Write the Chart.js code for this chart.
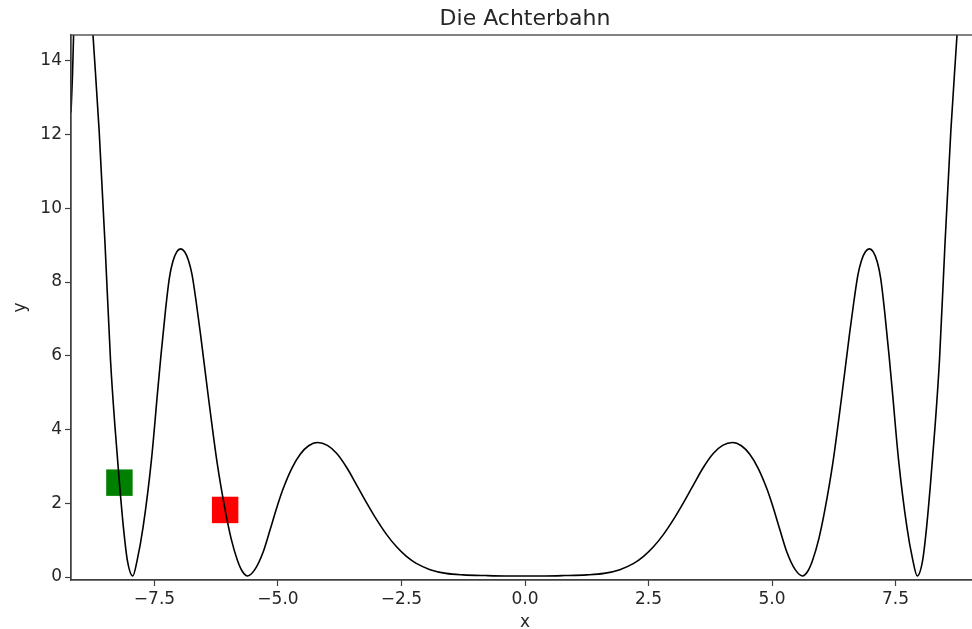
<!DOCTYPE html>
<html>
<head>
<meta charset="utf-8">
<title>Die Achterbahn</title>
<script src="https://cdn.jsdelivr.net/npm/chart.js@4/dist/chart.umd.min.js"></script>
<style>
  html, body { margin: 0; padding: 0; background: #fff; overflow: hidden; }
  #wrap { width: 972px; height: 629px; overflow: hidden; position: relative; }
  canvas { display: block; }
</style>
</head>
<body>
<div id="wrap"><canvas id="coaster" width="985" height="629"></canvas></div>
<script>
/* ── Data ── */

const chartTitle = 'Die Achterbahn';

// track profile, x positions and heights
const trackX = [
  -9.19, -9.16, -9.10, -9.02, -8.95, -8.85, -8.745, -8.62, -8.50, -8.39, -8.30,
  -8.21, -8.13, -8.05, -7.94, -7.85, -7.73, -7.56, -7.44, -7.37, -7.28, -7.20,
  -7.13, -7.05, -6.97, -6.89, -6.81, -6.74, -6.66, -6.57, -6.41, -6.23, -6.07,
  -5.95, -5.82, -5.72, -5.62, -5.47, -5.30, -5.16, -5.03, -4.90, -4.72, -4.55,
  -4.38, -4.20, -4.00, -3.81, -3.60, -3.41, -3.20, -3.00, -2.80, -2.60, -2.40,
  -2.20, -1.92, -1.60, -1.25, -0.80, -0.40, 0.00,
  0.40, 0.80, 1.25, 1.60, 1.92, 2.20, 2.40, 2.60, 2.80, 3.00, 3.20,
  3.41, 3.60, 3.81, 4.00, 4.20, 4.38, 4.55, 4.72, 4.90, 5.03, 5.16,
  5.30, 5.47, 5.62, 5.72, 5.82, 5.95, 6.07, 6.23, 6.41, 6.57, 6.66,
  6.74, 6.81, 6.89, 6.97, 7.05, 7.13, 7.20, 7.28, 7.37, 7.44, 7.56,
  7.73, 7.85, 7.94, 8.05, 8.13, 8.21, 8.30, 8.39, 8.50, 8.62, 8.745,
  8.85, 8.95, 9.02, 9.10, 9.16, 9.19
];
const trackY = [
  12.6, 13.6, 16.5, 18.5, 19.0, 17.0, 14.7, 12.1, 9.0, 5.88, 4.08,
  2.56, 1.36, 0.46, 0.03, 0.46, 1.36, 3.2, 4.98, 6.0, 7.2, 8.1,
  8.55, 8.82, 8.9, 8.82, 8.58, 8.2, 7.5, 6.6, 4.89, 3.08, 1.82,
  1.05, 0.45, 0.15, 0.03, 0.2, 0.68, 1.28, 1.86, 2.38, 2.95, 3.33,
  3.56, 3.65, 3.57, 3.35, 2.95, 2.5, 2.0, 1.55, 1.15, 0.82, 0.56,
  0.37, 0.2, 0.1, 0.06, 0.04, 0.03, 0.03,
  0.03, 0.04, 0.06, 0.1, 0.2, 0.37, 0.56, 0.82, 1.15, 1.55, 2.0,
  2.5, 2.95, 3.35, 3.57, 3.65, 3.56, 3.33, 2.95, 2.38, 1.86, 1.28,
  0.68, 0.2, 0.03, 0.15, 0.45, 1.05, 1.82, 3.08, 4.89, 6.6, 7.5,
  8.2, 8.58, 8.82, 8.9, 8.82, 8.55, 8.1, 7.2, 6.0, 4.98, 3.2,
  1.36, 0.46, 0.03, 0.46, 1.36, 2.56, 4.08, 5.88, 9.0, 12.1, 14.7,
  17.0, 19.0, 18.5, 16.5, 13.6, 12.6
];

// the two cars
const greenCar = [{ x: -8.21, y: 2.56 }];
const redCar = [{ x: -6.07, y: 1.82 }];

const xTicks = [-7.5, -5.0, -2.5, 0.0, 2.5, 5.0, 7.5];
const yTicks = [0, 2, 4, 6, 8, 10, 12, 14];

/* ── Chart ── */

const FONT = '"DejaVu Sans", "Liberation Sans", sans-serif';
const TEXT = '#262626';
const SPINE = '#404040';

const fmtX = v => (v < 0 ? '\u2212' : '') + Math.abs(v).toFixed(1);

// title over the axes box plus the top spine
const frame = {
  id: 'frame',
  afterDraw(chart) {
    const { ctx, chartArea: a } = chart;
    ctx.save();
    ctx.strokeStyle = SPINE;
    ctx.lineWidth = 1.3;
    ctx.strokeRect(a.left, a.top, a.right - a.left, a.bottom - a.top);
    ctx.fillStyle = TEXT;
    ctx.font = '22px ' + FONT;
    ctx.textAlign = 'center';
    ctx.textBaseline = 'middle';
    ctx.fillText(chartTitle, (a.left + a.right) / 2, 19);
    ctx.restore();
  }
};

const axisCommon = {
  type: 'linear',
  grid: { drawOnChartArea: false, drawTicks: true, tickLength: 6, tickWidth: 1.2, tickColor: SPINE },
  border: { display: true, color: SPINE, width: 1.3 },
  ticks: { color: TEXT, font: { family: FONT, size: 17 }, padding: 3, autoSkip: false, maxRotation: 0 }
};

new Chart(document.getElementById('coaster'), {
  type: 'scatter',
  data: {
    datasets: [
      {
        data: trackX.map((x, i) => ({ x, y: trackY[i] })),
        showLine: true,
        borderColor: '#000',
        borderWidth: 1.6,
        pointRadius: 0,
        cubicInterpolationMode: 'monotone',
        order: 0
      },
      {
        data: greenCar,
        pointStyle: 'rect',
        pointRadius: 18.7,
        backgroundColor: '#008000',
        borderWidth: 0,
        order: 1
      },
      {
        data: redCar,
        pointStyle: 'rect',
        pointRadius: 18.7,
        backgroundColor: '#ff0000',
        borderWidth: 0,
        order: 1
      }
    ]
  },
  options: {
    responsive: false,
    animation: false,
    events: [],
    // the canvas is wider than the page, so the right spine is cut off
    layout: { autoPadding: false, padding: { top: 35, left: 0, right: 6, bottom: 0 } },
    plugins: { legend: { display: false }, tooltip: { enabled: false } },
    scales: {
      x: {
        ...axisCommon,
        min: -9.19,
        max: 9.19,
        afterBuildTicks: s => { s.ticks = xTicks.map(value => ({ value })); },
        afterFit: s => { s.height = 49; },
        ticks: { ...axisCommon.ticks, callback: v => fmtX(v) },
        title: { display: true, text: 'x', color: TEXT, font: { family: FONT, size: 17, lineHeight: 0.8 }, padding: { top: 0, bottom: 0 } }
      },
      y: {
        ...axisCommon,
        min: -0.08,
        max: 14.7,
        afterBuildTicks: s => { s.ticks = yTicks.map(value => ({ value })); },
        afterFit: s => { s.width = 71; },
        ticks: { ...axisCommon.ticks, callback: v => v.toFixed(0) },
        title: { display: true, text: 'y', color: TEXT, font: { family: FONT, size: 17, lineHeight: 1 }, padding: { top: 12, bottom: 0 } }
      }
    }
  },
  plugins: [frame]
});
</script>
</body>
</html>
